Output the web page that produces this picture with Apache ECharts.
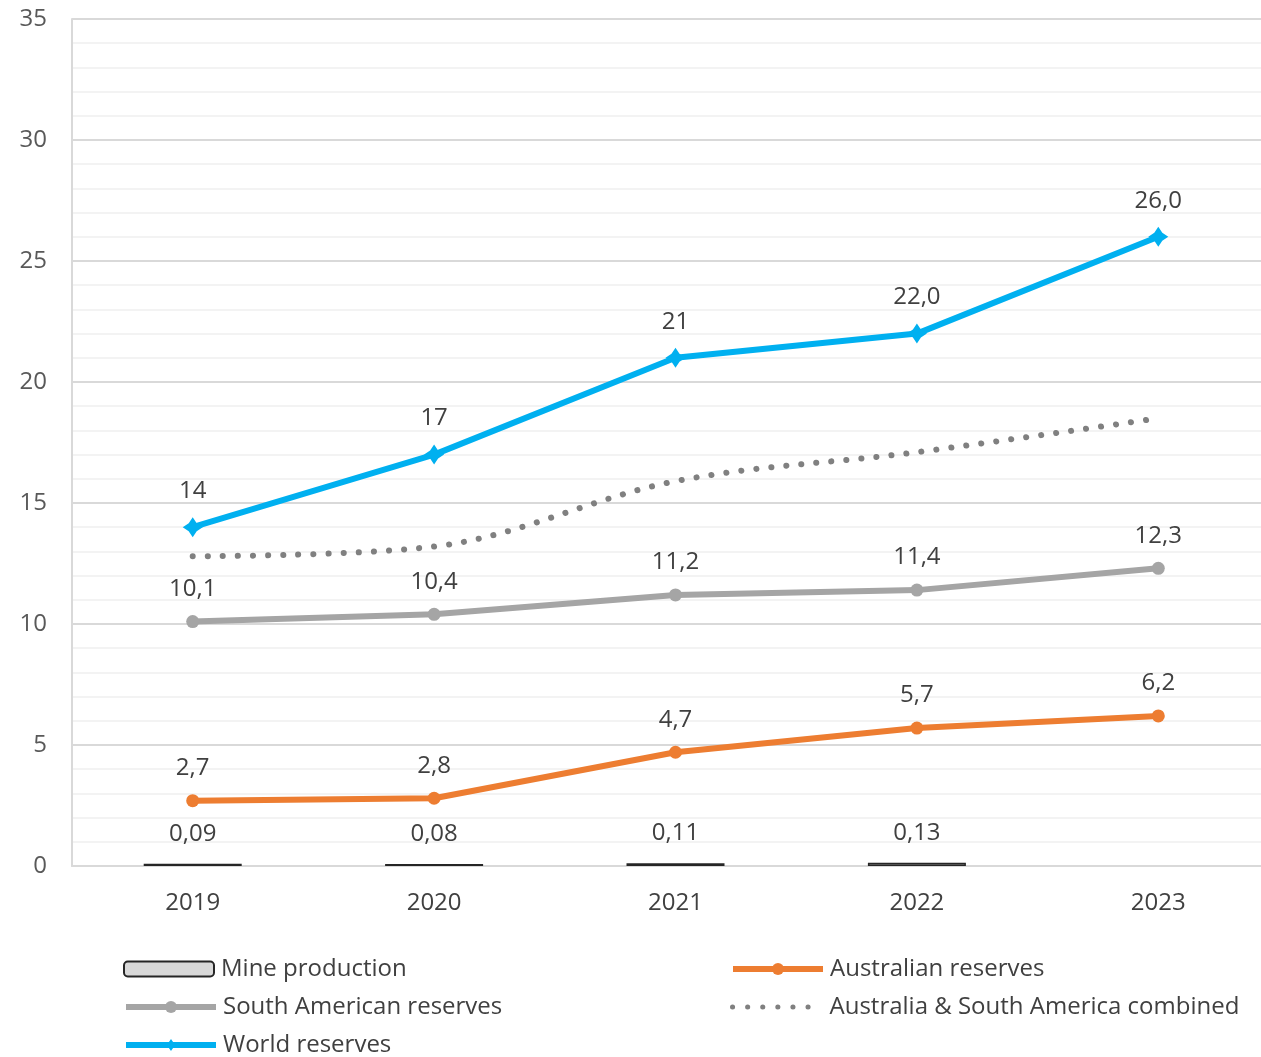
<!DOCTYPE html>
<html><head><meta charset="utf-8">
<script src="https://cdn.jsdelivr.net/npm/echarts@6/dist/echarts.min.js"></script>
<style>html,body{margin:0;padding:0;background:#fff;overflow:hidden}#c{width:1279px;height:1057px}</style>
</head><body><div id="c"></div>
<script>
const categories = ['2019','2020','2021','2022','2023'];
const mineProduction = [0.09, 0.08, 0.11, 0.13, null];
const mineLabels = ['0,09','0,08','0,11','0,13',''];
const australian = [2.7, 2.8, 4.7, 5.7, 6.2];
const australianLabels = ['2,7','2,8','4,7','5,7','6,2'];
const southAmerican = [10.1, 10.4, 11.2, 11.4, 12.3];
const southAmericanLabels = ['10,1','10,4','11,2','11,4','12,3'];
const combined = [12.8, 13.2, 15.9, 17.1, 18.5];
const combinedLabels = ['','','','','18,5'];
const world = [14, 17, 21, 22, 26];
const worldLabels = ['14','17','21','22,0','26,0'];
const yTicks = [0, 5, 10, 15, 20, 25, 30, 35];

const FONT = 'Open Sans';
const TXT = '#404040';
const starPath = 'path://M0,-10 L4,-4 L10,0 L4,4 L0,10 L-4,4 L-10,0 L-4,-4 Z';

function lbl(arr){
  return {show:true, position:'top', distance:14, fontFamily:FONT, fontSize:24, color:TXT,
    formatter: p => arr[p.dataIndex]};
}

const chart = echarts.init(document.getElementById('c'), null, {renderer:'canvas'});
function leg(left, top, name, extra){
  return Object.assign({left:left, top:top, data:[name], itemWidth:90, itemHeight:15, itemGap:0,
    textStyle:{fontFamily:FONT, fontSize:24, color:TXT, padding:[0,0,0,2]},
    lineStyle:{width:6}}, extra || {});
}
chart.setOption({
  animation:false,
  grid:{left:72, right:0, top:19, bottom:191, containLabel:false},
  xAxis:{type:'category', data:categories, boundaryGap:true,
    axisLine:{lineStyle:{color:'#d9d9d9', width:2}}, axisTick:{show:false},
    axisLabel:{fontFamily:FONT, fontSize:24, color:TXT, margin:25}},
  yAxis:{type:'value', min:yTicks[0], max:yTicks[yTicks.length-1], interval:5,
    axisLine:{show:true, lineStyle:{color:'#d9d9d9', width:2}}, axisTick:{show:false},
    axisLabel:{fontFamily:FONT, fontSize:24, color:'#595959', margin:25},
    splitLine:{lineStyle:{color:'#d9d9d9', width:2}},
    minorTick:{show:false, splitNumber:5},
    minorSplitLine:{show:true, lineStyle:{color:'#efefef', width:1.5}}},
  legend:[
    leg(118, 952, 'Mine production'),
    leg(118, 990, 'South American reserves'),
    leg(118, 1028, 'World reserves'),
    leg(725, 952, 'Australian reserves'),
    leg(725, 990, {name:'Australia & South America combined', itemStyle:{opacity:0}}, {lineStyle:{width:5, type:[0.1,15], cap:'round'}})
  ],
  series:[
    {name:'Mine production', type:'bar', data:mineProduction, barWidth:98,
      itemStyle:{color:'#d9d9d9', borderColor:'#262626', borderWidth:1.5},
      label:{show:true, position:'top', distance:18, fontFamily:FONT, fontSize:24, color:TXT,
        formatter:p=>mineLabels[p.dataIndex]}},
    {name:'Australian reserves', type:'line', data:australian, lineStyle:{color:'#ed7d31', width:6},
      itemStyle:{color:'#ed7d31'}, symbol:'circle', symbolSize:13, label:lbl(australianLabels)},
    {name:'South American reserves', type:'line', data:southAmerican, lineStyle:{color:'#a5a5a5', width:6},
      itemStyle:{color:'#a5a5a5'}, symbol:'circle', symbolSize:13, label:lbl(southAmericanLabels)},
    {name:'Australia & South America combined', type:'line', data:combined, smooth:0.35,
      lineStyle:{color:'#808080', width:6, type:[0.1,15], cap:'round'},
      itemStyle:{color:'#808080'}, symbol:'none', label:lbl(combinedLabels)},
    {name:'World reserves', type:'line', data:world, lineStyle:{color:'#00b0f0', width:6},
      itemStyle:{color:'#00b0f0'}, symbol:starPath, symbolSize:20, label:lbl(worldLabels)}
  ]
});
</script></body></html>
